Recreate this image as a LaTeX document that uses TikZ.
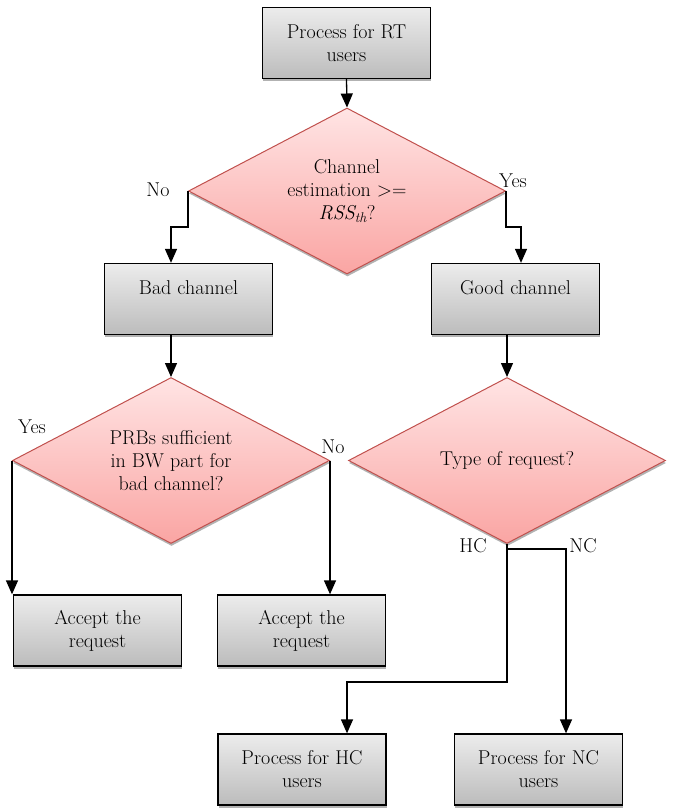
\documentclass[tikz,border=0pt]{standalone}
\usepackage{fontspec}
\usetikzlibrary{shapes.geometric,arrows.meta,shadows}
\definecolor{dborder}{RGB}{192,80,77}
\definecolor{dtop}{RGB}{255,228,228}
\definecolor{dbot}{RGB}{250,165,163}
\definecolor{btop}{RGB}{236,236,236}
\definecolor{bbot}{RGB}{188,188,188}
\begin{document}
\begin{tikzpicture}[x=1pt,y=-1pt,
  every node/.style={font=\fontsize{20}{23}\selectfont},
  procbox/.style={rectangle, draw=black, line width=1.3pt, top color=btop, bottom color=bbot,
    minimum width=168pt, minimum height=71pt, align=center, inner sep=0pt,
    general shadow={fill=black!30, shadow xshift=0.5pt, shadow yshift=-2.5pt}},
  decision/.style={diamond, draw=dborder, line width=1pt, top color=dtop, bottom color=dbot,
    minimum width=317pt, minimum height=166pt, aspect=1.91, inner sep=0pt, align=center,
    general shadow={fill=black!30, shadow xshift=0.5pt, shadow yshift=-2.5pt}},
  arr/.style={-{Triangle[width=12pt,length=14pt]}, line width=1.3pt},
  conn/.style={line width=1.3pt},
  lbl/.style={inner sep=0pt}
]
\useasboundingbox (0,0) rectangle (673,808);

\node[procbox] (rt) at (346.5,43) {Process for RT\\users};
\node[decision] (d1) at (347,191) {Channel\\estimation >=\\\textit{RSS\textsubscript{th}}?};
\node[procbox] (bad) at (188.5,299) {Bad channel\\\mbox{}};
\node[procbox] (good) at (515.5,299) {Good channel\\\mbox{}};
\node[decision] (d2) at (171,460.5) {PRBs sufficient\\in BW part for\\bad channel?};
\node[decision] (d3) at (507,460.5) {Type of request?};
\node[procbox] (acc1) at (97.5,630.5) {Accept the\\request};
\node[procbox] (acc2) at (301.5,630.5) {Accept the\\request};
\node[procbox] (hc) at (302,769.5) {Process for HC\\users};
\node[procbox] (nc) at (538.5,769.5) {Process for NC\\users};

\draw[arr] (rt.south) -- (d1.north);
\draw[arr] (d1.west) -- ++(0,36) -| ([xshift=-17.5pt]bad.north);
\draw[arr] (d1.east) -- ++(0,36) -| ([xshift=5.5pt]good.north);
\draw[arr] ([xshift=-17.5pt]bad.south) -- (d2.north);
\draw[arr] ([xshift=-8.5pt]good.south) -- (d3.north);
\draw[arr] (d2.west) -- (d2.west |- acc1.north);
\draw[arr] (d2.east) -- (d2.east |- acc2.north);
\coordinate (split) at ([yshift=-5pt]d3.south);
\draw[conn] (d3.south) -- (split);
\draw[arr] (split) -- ++(0,133) -| ([xshift=45pt]hc.north);
\draw[arr] (split) -| ([xshift=27.5pt]nc.north);

\node[lbl] (lno1) at (158,190) {No};
\node[lbl] (lyes1) at (513,181) {Yes};
\node[lbl] (lyes2) at (32,427) {Yes};
\node[lbl] (lno2) at (333,447) {No};
\node[lbl] (lhc) at (473,546) {HC};
\node[lbl] (lnc) at (583,546) {NC};
\end{tikzpicture}
\end{document}
